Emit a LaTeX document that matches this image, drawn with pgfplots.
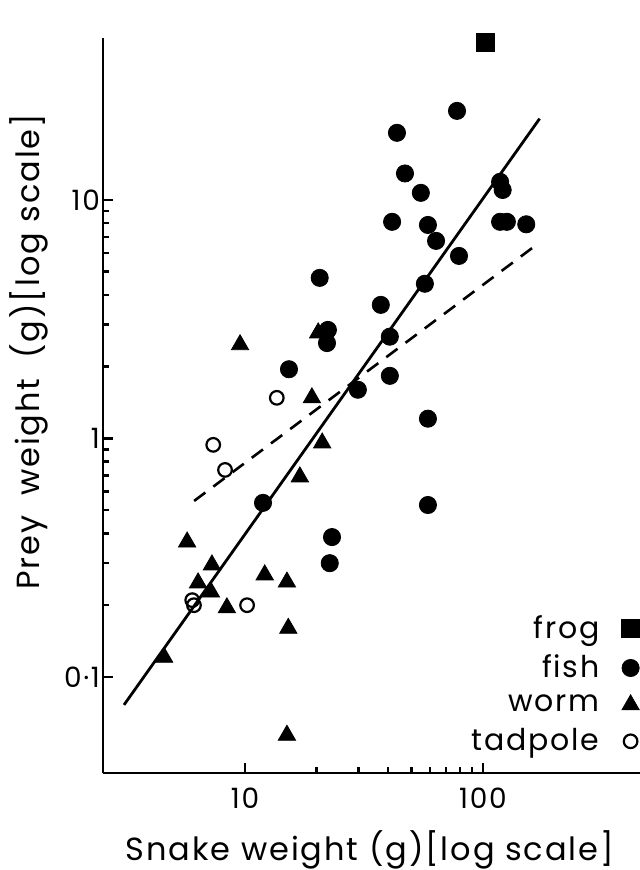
\documentclass[border=0pt]{standalone}
\usepackage{fontspec}
\setmainfont{Poppins}[LetterSpace=6]
\usepackage{pgfplots}
\pgfplotsset{compat=1.18}
\begin{document}
\begin{tikzpicture}
\useasboundingbox (0,0) rectangle (320pt,435pt);
\begin{axis}[
  at={(51.5pt,48.5pt)}, anchor=south west,
  scale only axis, width=268.5pt, height=367.5pt,
  xmode=log, ymode=log,
  xmin=2.53, xmax=457, ymin=0.0396, ymax=47.7,
  axis lines=left,
  axis line style={-, line width=1.4pt},
  xtick={10,100}, xticklabels={10,100},
  ytick={0.1,1,10}, yticklabels={0·1,1,10},
  minor tick num=0, minor xtick={}, minor ytick={},
  tick align=inside,
  major tick length=5pt,
  tick style={line width=1.2pt, black},
  tick label style={font=\fontsize{14}{16}\selectfont},
  xticklabel style={yshift=-4pt},
  yticklabel style={xshift=2pt},
  every axis x label/.style={at={(axis description cs:0.497,-0.104)}, anchor=center},
  every axis y label/.style={at={(axis description cs:-0.138,0.573)}, anchor=center, rotate=90},
  label style={font=\fontsize{16}{19}\selectfont},
  xlabel={Snake weight (g)[log scale]},
  ylabel={Prey\hspace{10pt}weight\hspace{10pt}(g)[log scale]},
  clip=false,
  legend style={at={(axis description cs:1,0.02)}, anchor=south east, draw=none, fill=none,
    font=\fontsize{15}{18}\selectfont, row sep=3pt, column sep=9pt, inner sep=0pt,
    nodes={inner sep=2pt}},
  legend plot pos=right,
  legend cell align=right,
]
\addplot[only marks, mark=square*, mark size=4.5pt, black] coordinates {(102,45.9)};
\addlegendentry{frog}
\addplot[only marks, mark=*, mark size=4.3pt, black] coordinates {
(77.8,23.6) (43.5,19.1) (47.0,12.9) (54.8,10.7) (118,11.9) (121,11.0)
(41.5,8.09) (58.7,7.85) (118,8.09) (126,8.09) (152,7.9) (63.5,6.73)
(79.3,5.82) (20.6,4.71) (57,4.45) (37.2,3.63) (22.3,2.85) (22.1,2.51)
(40.6,2.67) (40.6,1.83) (29.8,1.60) (58.7,1.21) (58.7,0.526) (23.2,0.386)
(22.7,0.30) (11.9,0.537) (15.3,1.95)};
\addlegendentry{fish}
\addplot[only marks, mark=triangle*, mark size=5pt, black] coordinates {
(9.53,2.47) (20.3,2.77) (19.1,1.48) (21.1,0.957) (17.0,0.69) (5.71,0.368)
(7.26,0.295) (6.35,0.248) (7.19,0.227) (8.39,0.195) (12.1,0.268) (15.0,0.25)
(15.2,0.16) (4.57,0.121) (15.0,0.057)};
\addlegendentry{worm}
\addplot[only marks, mark=o, mark size=3.4pt, black, mark options={line width=1.1pt}] coordinates {
(13.6,1.48) (7.35,0.94) (8.24,0.738) (6.0,0.21) (6.1,0.20) (10.2,0.20)};
\addlegendentry{tadpole}
\addplot[forget plot, black, line width=1.4pt] coordinates {(3.10,0.0764) (173,21.9)};
\addplot[forget plot, black, line width=1.3pt, dash pattern=on 7pt off 5pt] coordinates {(6.11,0.547) (172,6.6)};
\end{axis}
\end{tikzpicture}
\end{document}
